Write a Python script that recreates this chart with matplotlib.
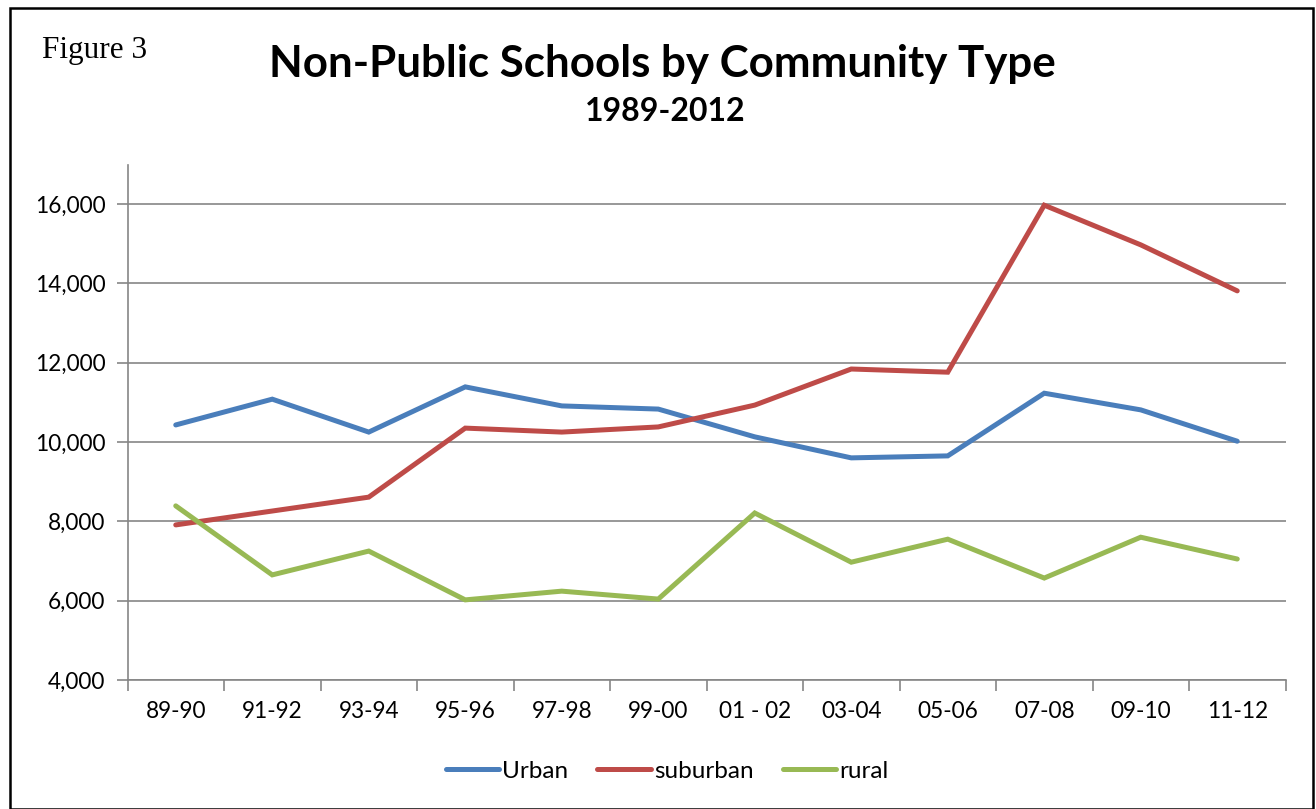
import matplotlib
matplotlib.use("Agg")
import matplotlib.pyplot as plt
from matplotlib.patches import Rectangle
from matplotlib.ticker import FuncFormatter, FixedLocator

periods = ["89-90", "91-92", "93-94", "95-96", "97-98", "99-00",
           "01 - 02", "03-04", "05-06", "07-08", "09-10", "11-12"]
urban = [10430, 11080, 10250, 11390, 10910, 10830, 10130, 9600, 9650, 11230, 10810, 10020]
suburban = [7910, 8260, 8610, 10350, 10250, 10380, 10930, 11840, 11760, 15970, 14970, 13810]
rural = [8390, 6650, 7250, 6020, 6240, 6040, 8210, 6970, 7550, 6570, 7600, 7050]

series = [("Urban", urban, "#4A7EBB"),
          ("suburban", suburban, "#BE4B48"),
          ("rural", rural, "#98B954")]

W, H, DPI = 1316, 809, 100
fig = plt.figure(figsize=(W / DPI, H / DPI), dpi=DPI)
fig.patch.set_facecolor("white")

sans = ["Lato", "DejaVu Sans"]
tick_size = 16.3

# outer frame
fig.add_artist(Rectangle((10 / W, 0), 1303 / W, (H - 8) / H, transform=fig.transFigure,
                         fill=False, edgecolor="black", linewidth=1.8))

ax = fig.add_axes([127.5 / W, 1 - 680 / H, (1285.5 - 127.5) / W, (680 - 165) / H])
x = list(range(len(periods)))
for name, vals, col in series:
    ax.plot(x, vals, color=col, linewidth=3.6, label=name, solid_capstyle="round",
            solid_joinstyle="miter")

ax.set_xlim(-0.5, len(periods) - 0.5)
ax.set_ylim(4000, 4000 + 12000 * (680 - 165) / (680 - 204))
ax.yaxis.set_major_locator(FixedLocator([4000, 6000, 8000, 10000, 12000, 14000, 16000]))
ax.yaxis.set_major_formatter(FuncFormatter(lambda v, p: f"{int(v):,}"))
ax.set_xticks(x)
ax.set_xticklabels(periods)
ax.set_xticks([i - 0.5 for i in range(len(periods) + 1)], minor=True)
ax.tick_params(axis="x", which="major", length=0, pad=15, labelsize=tick_size)
ax.tick_params(axis="x", which="minor", length=8, width=1.2, color="#868686", direction="out")
ax.tick_params(axis="y", length=8, width=1.2, color="#868686", pad=8, labelsize=tick_size)
for lab in ax.get_xticklabels() + ax.get_yticklabels():
    lab.set_family(sans)
ax.grid(axis="y", color="#868686", linewidth=1.2)
ax.set_axisbelow(True)
for s in ["top", "right"]:
    ax.spines[s].set_visible(False)
ax.spines["left"].set_color("#868686")
ax.spines["bottom"].set_color("#868686")
ax.spines["left"].set_linewidth(1.2)
ax.spines["bottom"].set_linewidth(1.2)

fig.text(42 / W, 1 - 58 / H, "Figure 3", family=["Liberation Serif"], fontsize=22.5,
         va="baseline", ha="left")
fig.text(662 / W, 1 - 77 / H, "Non-Public Schools by Community Type", family=sans,
         fontsize=31.6, fontweight="bold", ha="center", va="baseline")
fig.text(665 / W, 1 - 121 / H, "1989-2012", family=sans, fontsize=23,
         fontweight="bold", ha="center", va="baseline")

leg = fig.legend(loc="center", bbox_to_anchor=(667 / W, 1 - 771 / H), ncol=3,
                 frameon=False, prop={"family": sans, "size": 17.5},
                 handlelength=2.2, handletextpad=0.12, columnspacing=1.2)

fig.savefig("out.png", dpi=DPI, facecolor="white")
